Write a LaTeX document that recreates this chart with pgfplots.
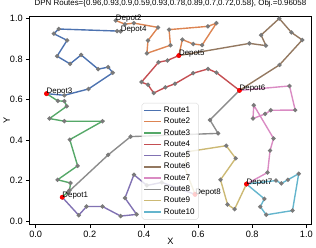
\documentclass[border=0pt]{standalone}
\usepackage{pgfplots}
\pgfplotsset{compat=1.18}
\usepackage{fontspec}
\setmainfont{Liberation Sans}
\definecolor{c1}{HTML}{4C72B0}
\definecolor{c2}{HTML}{DD8452}
\definecolor{c3}{HTML}{55A868}
\definecolor{c4}{HTML}{C44E52}
\definecolor{c5}{HTML}{8172B3}
\definecolor{c6}{HTML}{937860}
\definecolor{c7}{HTML}{DA8BC3}
\definecolor{c8}{HTML}{8C8C8C}
\definecolor{c9}{HTML}{CCB974}
\definecolor{c10}{HTML}{64B5CD}
\definecolor{dotc}{HTML}{7A7A7A}
\pgfplotsset{route/.style={line width=1.4pt, mark=*, mark size=1.4pt, mark options={fill=dotc, draw=dotc, solid}}}
\begin{document}
\begin{tikzpicture}
\begin{axis}[
  at={(0pt,0pt)}, anchor=south west,
  width=284pt, height=210pt, scale only axis,
  xmin=-0.022, xmax=1.018, ymin=-0.015, ymax=1.012,
  xtick={0,0.2,0.4,0.6,0.8,1.0}, ytick={0,0.2,0.4,0.6,0.8,1.0},
  tick align=outside, tick pos=left, major tick length=3.5pt,
  axis line style={line width=0.6pt},
  every tick/.style={line width=0.6pt, black},
  /pgf/number format/assume math mode=true,
  xticklabel style={/pgf/number format/.cd, fixed, fixed zerofill, precision=1},
  yticklabel style={/pgf/number format/.cd, fixed, fixed zerofill, precision=1},
  ticklabel style={font=\fontsize{9.3}{10}\selectfont},
  xlabel={X}, ylabel={Y},
  label style={font=\fontsize{9.3}{10}\selectfont, inner sep=0pt},
  xlabel style={at={(axis description cs:0.5,-0.1)}, anchor=base},
  ylabel style={at={(axis description cs:-0.0704,0.5)}, anchor=base},
  title={DPN Routes=\{0.96,0.93,0.9,0.59,0.93,0.78,0.89,0.7,0.72,0.58\}, Obj.=0.96058},
  title style={at={(axis description cs:0.5,1)}, anchor=base, inner sep=0pt, yshift=4.4pt, font=\fontsize{8}{9}\selectfont},
  legend style={at={(axis description cs:0.398,0.022)}, anchor=south west,
    font=\fontsize{8.2}{9}\selectfont, fill=white, fill opacity=0.8, draw opacity=1, text opacity=1,
    draw=black!15, rounded corners=2pt, inner sep=1.8pt, row sep=0.2pt},
  legend cell align=left,
  legend image code/.code={\draw[#1] (0pt,0pt) -- (17pt,0pt);},
]
\addplot[route, c1] coordinates {(0.314,0.936) (0.301,0.938) (0.085,0.948) (0.067,0.925) (0.116,0.892) (0.079,0.814) (0.127,0.776) (0.168,0.820) (0.231,0.750) (0.268,0.760) (0.285,0.732) (0.195,0.652) (0.106,0.621) (0.040,0.629)};
\addlegendentry{Route1}
\addplot[route, c2] coordinates {(0.296,0.990) (0.330,0.972) (0.363,0.977) (0.452,0.956) (0.415,0.891) (0.411,0.828) (0.498,0.868) (0.493,0.945) (0.636,0.961) (0.668,0.977) (0.615,0.869) (0.582,0.874) (0.542,0.896) (0.529,0.817)};
\addlegendentry{Route2}
\addplot[route, c3] coordinates {(0.040,0.629) (0.082,0.593) (0.106,0.592) (0.115,0.567) (0.051,0.506) (0.106,0.493) (0.247,0.493) (0.126,0.402) (0.155,0.273) (0.081,0.204) (0.129,0.188) (0.125,0.152) (0.098,0.118)};
\addlegendentry{Route3}
\addplot[route, c4] coordinates {(0.529,0.817) (0.487,0.793) (0.454,0.784) (0.391,0.686) (0.415,0.673) (0.436,0.632) (0.479,0.660) (0.515,0.678) (0.582,0.730) (0.637,0.751) (0.668,0.733) (0.753,0.645)};
\addlegendentry{Route4}
\addplot[route, c5] coordinates {(0.098,0.118) (0.159,0.029) (0.188,0.072) (0.247,0.072) (0.314,0.025) (0.373,0.033) (0.330,0.114) (0.363,0.229) (0.411,0.176) (0.466,0.191) (0.589,0.132)};
\addlegendentry{Route5}
\addplot[route, c6] coordinates {(0.529,0.817) (0.790,0.877) (0.851,0.866) (0.833,0.918) (0.900,1.000) (0.945,0.931) (0.985,0.894) (0.901,0.771) (0.753,0.645)};
\addlegendentry{Route6}
\addplot[route, c7] coordinates {(0.753,0.645) (0.938,0.667) (0.959,0.548) (0.869,0.547) (0.848,0.529) (0.803,0.506) (0.806,0.572) (0.879,0.408) (0.866,0.348) (0.857,0.240) (0.779,0.183)};
\addlegendentry{Route7}
\addplot[route, c8] coordinates {(0.753,0.645) (0.644,0.499) (0.674,0.433) (0.351,0.417) (0.268,0.327) (0.120,0.143)};
\addlegendentry{Route8}
\addplot[route, c9] coordinates {(0.589,0.132) (0.549,0.270) (0.564,0.343) (0.704,0.372) (0.739,0.310) (0.683,0.204) (0.709,0.082) (0.735,0.059) (0.779,0.183)};
\addlegendentry{Route9}
\addplot[route, c10] coordinates {(0.779,0.183) (0.845,0.110) (0.830,0.071) (0.852,0.031) (0.949,0.052) (0.972,0.234) (0.932,0.204) (0.908,0.186) (0.888,0.200) (0.779,0.183)};
\addlegendentry{Route10}
\addplot[forget plot, only marks, mark=*, mark size=2.2pt, mark options={fill=red, draw=red}] coordinates {(0.098,0.118) (0.040,0.629) (0.529,0.817) (0.753,0.645) (0.779,0.183) (0.589,0.132)};
\addplot[forget plot, only marks, mark=none, nodes near coords, point meta=explicit symbolic,
  nodes near coords style={anchor=base west, inner sep=0pt, text=black, font=\fontsize{8}{9}\selectfont}]
  table[meta=l] {
x y l
0.098 0.118 Depot1
0.296 0.990 Depot2
0.040 0.629 Depot3
0.314 0.936 Depot4
0.529 0.817 Depot5
0.753 0.645 Depot6
0.779 0.183 Depot7
0.589 0.132 Depot8
};
\end{axis}
\path (-30pt,-24pt) rectangle (286pt,223pt);
\end{tikzpicture}
\end{document}
